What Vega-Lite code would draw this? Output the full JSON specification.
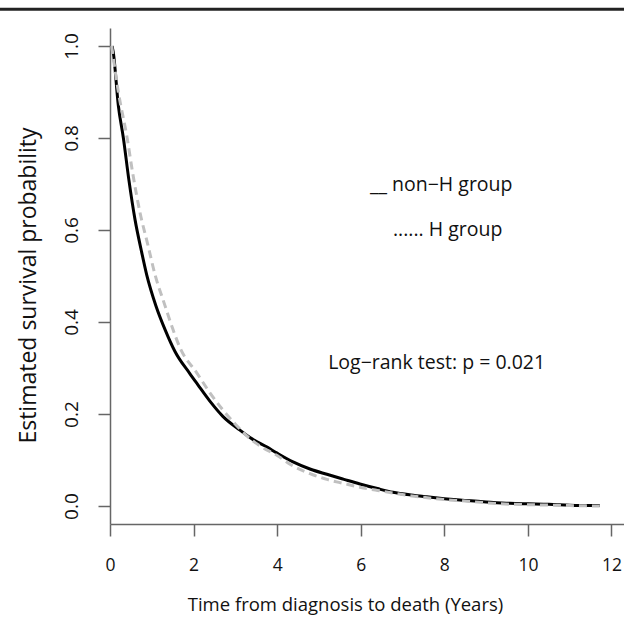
{
  "$schema": "https://vega.github.io/schema/vega-lite/v6.json",
  "autosize": "none",
  "width": 514,
  "height": 496,
  "padding": {"left": 110, "top": 28, "right": 0, "bottom": 101},
  "background": "white",
  "config": {
    "view": {"stroke": null},
    "font": "Open Sans",
    "axis": {"grid": false, "domainColor": "#666666", "tickColor": "#666666", "domainWidth": 1.5, "tickWidth": 1.5, "tickSize": 12, "labelColor": "#111111", "titleColor": "#111111", "labelFont": "Open Sans", "titleFont": "Open Sans", "labelFontSize": 17.5, "titleFontSize": 18.5, "titleFontWeight": "normal"}
  },
  "datasets": {
    "surv": [
      {"t": 0.05, "S": 1.0, "group": "non-H"},
      {"t": 0.08, "S": 0.985, "group": "non-H"},
      {"t": 0.2, "S": 0.87, "group": "non-H"},
      {"t": 0.32, "S": 0.8, "group": "non-H"},
      {"t": 0.45, "S": 0.71, "group": "non-H"},
      {"t": 0.6, "S": 0.622, "group": "non-H"},
      {"t": 0.75, "S": 0.555, "group": "non-H"},
      {"t": 0.88, "S": 0.502, "group": "non-H"},
      {"t": 1.1, "S": 0.435, "group": "non-H"},
      {"t": 1.32, "S": 0.383, "group": "non-H"},
      {"t": 1.555, "S": 0.336, "group": "non-H"},
      {"t": 1.91, "S": 0.288, "group": "non-H"},
      {"t": 2.1, "S": 0.264, "group": "non-H"},
      {"t": 2.39, "S": 0.228, "group": "non-H"},
      {"t": 2.7, "S": 0.195, "group": "non-H"},
      {"t": 3.11, "S": 0.165, "group": "non-H"},
      {"t": 3.4, "S": 0.146, "group": "non-H"},
      {"t": 3.76, "S": 0.128, "group": "non-H"},
      {"t": 4.0, "S": 0.115, "group": "non-H"},
      {"t": 4.38, "S": 0.096, "group": "non-H"},
      {"t": 4.8, "S": 0.08, "group": "non-H"},
      {"t": 5.19, "S": 0.069, "group": "non-H"},
      {"t": 5.6, "S": 0.058, "group": "non-H"},
      {"t": 5.98, "S": 0.048, "group": "non-H"},
      {"t": 6.4, "S": 0.038, "group": "non-H"},
      {"t": 6.77, "S": 0.03, "group": "non-H"},
      {"t": 7.2, "S": 0.024, "group": "non-H"},
      {"t": 7.58, "S": 0.02, "group": "non-H"},
      {"t": 8.0, "S": 0.016, "group": "non-H"},
      {"t": 8.37, "S": 0.013, "group": "non-H"},
      {"t": 9.0, "S": 0.009, "group": "non-H"},
      {"t": 9.57, "S": 0.006, "group": "non-H"},
      {"t": 10.0, "S": 0.005, "group": "non-H"},
      {"t": 10.5, "S": 0.004, "group": "non-H"},
      {"t": 11.0, "S": 0.002, "group": "non-H"},
      {"t": 11.72, "S": 0.001, "group": "non-H"},
      {"t": 0.04, "S": 1.0, "group": "H"},
      {"t": 0.2, "S": 0.9, "group": "H"},
      {"t": 0.41, "S": 0.8, "group": "H"},
      {"t": 0.55, "S": 0.72, "group": "H"},
      {"t": 0.72, "S": 0.637, "group": "H"},
      {"t": 0.9, "S": 0.57, "group": "H"},
      {"t": 1.08, "S": 0.502, "group": "H"},
      {"t": 1.3, "S": 0.44, "group": "H"},
      {"t": 1.51, "S": 0.383, "group": "H"},
      {"t": 1.67, "S": 0.345, "group": "H"},
      {"t": 2.08, "S": 0.289, "group": "H"},
      {"t": 2.4, "S": 0.245, "group": "H"},
      {"t": 2.7, "S": 0.209, "group": "H"},
      {"t": 3.0, "S": 0.178, "group": "H"},
      {"t": 3.28, "S": 0.152, "group": "H"},
      {"t": 3.6, "S": 0.13, "group": "H"},
      {"t": 4.0, "S": 0.11, "group": "H"},
      {"t": 4.38, "S": 0.087, "group": "H"},
      {"t": 4.8, "S": 0.07, "group": "H"},
      {"t": 5.19, "S": 0.058, "group": "H"},
      {"t": 5.6, "S": 0.049, "group": "H"},
      {"t": 5.98, "S": 0.041, "group": "H"},
      {"t": 6.4, "S": 0.034, "group": "H"},
      {"t": 6.8, "S": 0.028, "group": "H"},
      {"t": 7.4, "S": 0.02, "group": "H"},
      {"t": 8.0, "S": 0.014, "group": "H"},
      {"t": 8.5, "S": 0.011, "group": "H"},
      {"t": 9.0, "S": 0.007, "group": "H"},
      {"t": 9.6, "S": 0.004, "group": "H"},
      {"t": 10.0, "S": 0.003, "group": "H"},
      {"t": 10.5, "S": 0.002, "group": "H"},
      {"t": 11.0, "S": 0.001, "group": "H"},
      {"t": 11.72, "S": 0.0, "group": "H"}
    ],
    "notes": [
      {"t": 6.22, "S": 0.698, "label": "__ non−H group"},
      {"t": 6.77, "S": 0.6, "label": "...... H group"},
      {"t": 5.22, "S": 0.311, "label": "Log−rank test: p = 0.021"}
    ]
  },
  "layer": [
    {
      "data": {"name": "surv"},
      "transform": [{"filter": "datum.group === 'non-H'"}],
      "mark": {"type": "line", "color": "#000000", "strokeWidth": 3, "interpolate": "monotone"},
      "encoding": {
        "x": {"field": "t", "type": "quantitative", "scale": {"domain": [0, 12.3], "nice": false, "zero": false},
          "axis": {"values": [0, 2, 4, 6, 8, 10, 12], "title": "Time from diagnosis to death (Years)", "labelPadding": 20, "titleX": 235, "titleAlign": "center", "titlePadding": 22, "labelFlush": false}},
        "y": {"field": "S", "type": "quantitative", "scale": {"domain": [-0.039, 1.039], "nice": false, "zero": false},
          "axis": {"values": [0, 0.2, 0.4, 0.6, 0.8, 1.0], "format": ".1f", "title": "Estimated survival probability", "titleFontSize": 23, "labelFontSize": 19, "labelAngle": -90, "labelAlign": "center", "labelBaseline": "bottom", "labelPadding": 17, "titleY": 257, "titlePadding": 22, "labelFlush": false}}
      }
    },
    {
      "data": {"name": "surv"},
      "transform": [{"filter": "datum.group === 'H'"}],
      "mark": {"type": "line", "color": "#c0c0c0", "strokeWidth": 3, "strokeDash": [8, 5], "interpolate": "monotone"},
      "encoding": {
        "x": {"field": "t", "type": "quantitative"},
        "y": {"field": "S", "type": "quantitative"}
      }
    },
    {
      "data": {"name": "notes"},
      "mark": {"type": "text", "align": "left", "baseline": "middle", "fontSize": 19.5, "font": "Open Sans", "color": "#111111"},
      "encoding": {
        "x": {"field": "t", "type": "quantitative"},
        "y": {"field": "S", "type": "quantitative"},
        "text": {"field": "label"}
      }
    },
    {
      "data": {"values": [{}]},
      "mark": {"type": "rule", "color": "#222222", "strokeWidth": 3, "clip": false},
      "encoding": {
        "x": {"datum": -2.64},
        "x2": {"datum": 12.3},
        "y": {"datum": 1.08}
      }
    }
  ]
}
